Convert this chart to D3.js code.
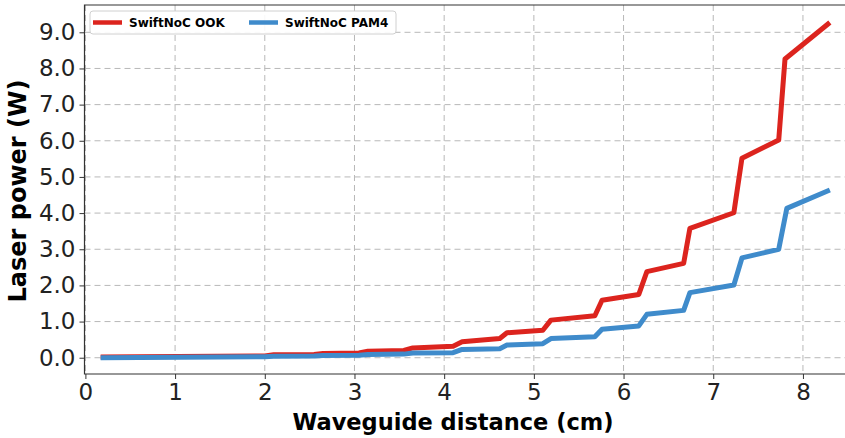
<!DOCTYPE html>
<html>
<head>
<meta charset="utf-8">
<script src="https://cdn.jsdelivr.net/npm/d3@7"></script>
<style>
  body { margin: 0; background: #fff; }
  svg text { font-family: "DejaVu Sans", sans-serif; }
</style>
</head>
<body>
<svg id="chart" width="845" height="438"></svg>
<script>
// waveguide distance (cm) and laser power (W)
const ookX = [0.17, 2.0, 2.1, 2.55, 2.65, 3.05, 3.15, 3.55, 3.65, 4.10, 4.20, 4.62, 4.70, 5.10, 5.19, 5.68, 5.76, 6.17, 6.26, 6.67, 6.74, 7.23, 7.32, 7.73, 7.80, 8.30];
const ookY = [0.02, 0.05, 0.08, 0.09, 0.12, 0.13, 0.18, 0.20, 0.27, 0.32, 0.44, 0.53, 0.69, 0.76, 1.04, 1.16, 1.59, 1.75, 2.38, 2.61, 3.58, 4.01, 5.52, 6.02, 8.26, 9.27];
const pamX = [0.17, 2.0, 2.1, 2.55, 2.65, 3.05, 3.15, 3.55, 3.65, 4.10, 4.20, 4.62, 4.70, 5.10, 5.19, 5.68, 5.76, 6.17, 6.26, 6.67, 6.74, 7.23, 7.32, 7.73, 7.82, 8.30];
const pamY = [0.00, 0.03, 0.04, 0.05, 0.06, 0.07, 0.09, 0.10, 0.13, 0.14, 0.23, 0.25, 0.35, 0.39, 0.53, 0.58, 0.79, 0.88, 1.20, 1.31, 1.80, 2.01, 2.76, 3.00, 4.13, 4.64];
const xTicks = [0, 1, 2, 3, 4, 5, 6, 7, 8];
const yTicks = [0, 1, 2, 3, 4, 5, 6, 7, 8, 9];
const seriesNames = ['SwiftNoC OOK', 'SwiftNoC PAM4'];
const seriesColors = ['#dc241e', '#3f8bcb'];

const svg = d3.select('#chart');
const plotL = 84.5, plotR = 852, plotT = 5, plotB = 374;

const x = d3.scaleLinear().domain([-0.01, 8.547]).range([plotL, plotR]);
const y = d3.scaleLinear().domain([-0.45, 9.755]).range([plotB, plotT]);

// grid
const grid = svg.append('g').attr('class', 'grid');
grid.selectAll('line.gx').data(xTicks).join('line').classed('gx', true)
  .attr('x1', d => x(d)).attr('x2', d => x(d))
  .attr('y1', plotT).attr('y2', plotB)
  .attr('stroke', '#b8b8b8').attr('stroke-width', 1).attr('stroke-dasharray', '6,4');
grid.selectAll('line.gy').data(yTicks).join('line').classed('gy', true)
  .attr('x1', plotL).attr('x2', plotR)
  .attr('y1', d => y(d)).attr('y2', d => y(d))
  .attr('stroke', '#b8b8b8').attr('stroke-width', 1).attr('stroke-dasharray', '6,4');

// axes
const xAxis = svg.append('g').attr('transform', `translate(0,${plotB})`)
  .call(d3.axisBottom(x).tickValues(xTicks).tickFormat(d3.format('d')).tickSize(5).tickPadding(5));
const yAxis = svg.append('g').attr('transform', `translate(${plotL},0)`)
  .call(d3.axisLeft(y).tickValues(yTicks).tickFormat(d3.format('.1f')).tickSize(5).tickPadding(4));
[xAxis, yAxis].forEach(a => {
  a.select('.domain').remove();
  a.selectAll('.tick line').attr('stroke', '#333');
  a.selectAll('.tick text').attr('fill', '#222').style('font-size', '23px');
});

// spines
svg.append('path')
  .attr('d', `M${plotR},${plotT}H${plotL}V${plotB}H${plotR}`)
  .attr('fill', 'none').attr('stroke', '#333').attr('stroke-width', 1.2);

// lines
const line = d3.line().x(d => x(d[0])).y(d => y(d[1]));
const series = [d3.zip(ookX, ookY), d3.zip(pamX, pamY)];
svg.append('g').selectAll('path').data(series).join('path')
  .attr('d', line)
  .attr('fill', 'none')
  .attr('stroke', (d, i) => seriesColors[i])
  .attr('stroke-width', 5)
  .attr('stroke-linejoin', 'round');

// axis titles
svg.append('text')
  .attr('x', 453).attr('y', 430)
  .attr('text-anchor', 'middle')
  .style('font-size', '22.5px').style('font-weight', 'bold')
  .text('Waveguide distance (cm)');
svg.append('text')
  .attr('transform', 'translate(26,191) rotate(-90)')
  .attr('text-anchor', 'middle')
  .style('font-size', '24px').style('font-weight', 'bold')
  .text('Laser power (W)');

// legend
const legend = svg.append('g');
legend.append('rect')
  .attr('x', 90).attr('y', 11).attr('width', 306).attr('height', 23).attr('rx', 3)
  .attr('fill', '#fff').attr('fill-opacity', 0.9).attr('stroke', '#d0d0d0');
const legendX = [93, 249];
seriesNames.forEach((name, i) => {
  legend.append('line')
    .attr('x1', legendX[i]).attr('x2', legendX[i] + 29)
    .attr('y1', 22.5).attr('y2', 22.5)
    .attr('stroke', seriesColors[i]).attr('stroke-width', 4.5);
  legend.append('text')
    .attr('x', legendX[i] + 36).attr('y', 27)
    .style('font-size', '12px').style('font-weight', 'bold')
    .text(name);
});
</script>
</body>
</html>
